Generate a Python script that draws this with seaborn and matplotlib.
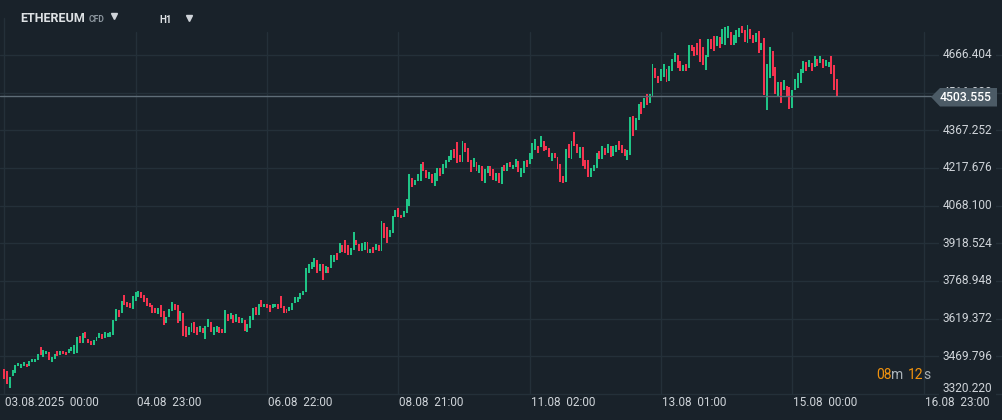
import numpy as np
import pandas as pd
import matplotlib
matplotlib.use("Agg")
import matplotlib.pyplot as plt
from matplotlib.patches import Polygon
import seaborn as sns

# hourly candles, ETHEREUM CFD
opens = [
    3418, 3413, 3345, 3393, 3405, 3432, 3425, 3433, 3440, 3433, 3449, 3449, 3455, 3506, 3469, 3481,
    3487, 3449, 3458, 3492, 3475, 3492, 3488, 3482, 3489, 3479, 3485, 3551, 3522, 3568, 3538, 3532,
    3515, 3532, 3542, 3559, 3542, 3546, 3546, 3555, 3612, 3654, 3643, 3714, 3687, 3683, 3657, 3691,
    3704, 3725, 3714, 3702, 3683, 3674, 3663, 3638, 3674, 3650, 3601, 3627, 3651, 3678, 3674, 3612,
    3643, 3590, 3555, 3568, 3608, 3585, 3568, 3581, 3539, 3585, 3608, 3555, 3568, 3588, 3577, 3564,
    3638, 3619, 3634, 3608, 3625, 3604, 3614, 3567, 3581, 3614, 3667, 3632, 3694, 3665, 3678, 3675,
    3661, 3667, 3678, 3710, 3670, 3659, 3651, 3654, 3683, 3687, 3699, 3712, 3727, 3802, 3816, 3824,
    3852, 3810, 3837, 3802, 3826, 3820, 3846, 3881, 3879, 3912, 3932, 3912, 3872, 3892, 3932, 3916,
    3890, 3892, 3925, 3881, 3903, 3892, 3912, 3890, 4001, 3982, 3945, 3961, 4025, 4059, 4032, 4022,
    4040, 4067, 4177, 4150, 4164, 4167, 4242, 4210, 4173, 4194, 4146, 4164, 4218, 4194, 4217, 4240,
    4250, 4292, 4321, 4270, 4243, 4316, 4296, 4250, 4223, 4243, 4197, 4226, 4157, 4199, 4226, 4213,
    4167, 4197, 4154, 4230, 4207, 4242, 4213, 4223, 4247, 4183, 4199, 4250, 4234, 4252, 4289, 4305,
    4300, 4325, 4305, 4296, 4247, 4276, 4263, 4234, 4187, 4163, 4313, 4254, 4362, 4312, 4259, 4302,
    4250, 4250, 4183, 4206, 4217, 4285, 4254, 4298, 4276, 4305, 4267, 4283, 4325, 4309, 4293, 4250,
    4270, 4426, 4369, 4408, 4479, 4455, 4510, 4475, 4499, 4614, 4583, 4565, 4580, 4610, 4565, 4604,
    4640, 4667, 4644, 4604, 4631, 4614, 4706, 4697, 4715, 4729, 4700, 4607, 4657, 4729, 4742, 4702,
    4737, 4710, 4706, 4733, 4759, 4706, 4715, 4739, 4782, 4766, 4713, 4769, 4746, 4719, 4762, 4686,
    4733, 4448, 4574, 4684, 4620, 4504, 4561, 4527, 4543, 4541, 4455, 4527, 4534, 4557, 4596, 4640,
    4620, 4634, 4620, 4650, 4636, 4650, 4623, 4620, 4663, 4627, 4570,
]
closes = [
    3380, 3360, 3389, 3416, 3436, 3445, 3440, 3449, 3429, 3453, 3458, 3461, 3479, 3477, 3495, 3492,
    3455, 3469, 3479, 3471, 3491, 3479, 3475, 3499, 3508, 3515, 3546, 3524, 3564, 3542, 3522, 3515,
    3535, 3546, 3562, 3538, 3568, 3564, 3568, 3614, 3657, 3627, 3690, 3674, 3667, 3661, 3710, 3727,
    3731, 3702, 3687, 3670, 3667, 3641, 3641, 3661, 3627, 3594, 3627, 3657, 3686, 3654, 3604, 3651,
    3552, 3548, 3588, 3604, 3562, 3554, 3590, 3562, 3590, 3618, 3568, 3585, 3590, 3562, 3562, 3654,
    3612, 3643, 3604, 3637, 3601, 3621, 3571, 3598, 3630, 3662, 3634, 3678, 3665, 3678, 3661, 3647,
    3678, 3678, 3658, 3663, 3643, 3643, 3665, 3683, 3707, 3704, 3723, 3731, 3820, 3837, 3846, 3859,
    3800, 3837, 3773, 3829, 3802, 3872, 3872, 3852, 3921, 3886, 3879, 3872, 3901, 3964, 3912, 3890,
    3919, 3925, 3881, 3895, 3881, 3916, 3890, 4009, 3939, 3921, 3972, 4027, 4051, 4025, 4019, 4048,
    4094, 4194, 4141, 4170, 4194, 4234, 4207, 4177, 4203, 4160, 4197, 4217, 4186, 4234, 4250, 4266,
    4289, 4256, 4239, 4242, 4325, 4283, 4243, 4203, 4256, 4207, 4230, 4167, 4213, 4226, 4186, 4170,
    4197, 4157, 4221, 4207, 4236, 4221, 4230, 4252, 4203, 4217, 4247, 4223, 4276, 4316, 4332, 4279,
    4344, 4287, 4289, 4263, 4276, 4256, 4213, 4163, 4160, 4293, 4256, 4325, 4306, 4276, 4302, 4227,
    4214, 4183, 4217, 4230, 4276, 4254, 4305, 4270, 4312, 4263, 4305, 4309, 4289, 4276, 4267, 4289,
    4422, 4346, 4418, 4471, 4431, 4497, 4468, 4510, 4631, 4574, 4557, 4610, 4631, 4561, 4623, 4650,
    4676, 4614, 4604, 4627, 4604, 4706, 4684, 4663, 4667, 4640, 4627, 4667, 4729, 4689, 4684, 4742,
    4693, 4769, 4779, 4782, 4706, 4746, 4766, 4773, 4753, 4719, 4786, 4729, 4715, 4755, 4673, 4715,
    4508, 4631, 4697, 4583, 4512, 4561, 4477, 4567, 4504, 4451, 4527, 4570, 4594, 4610, 4644, 4604,
    4647, 4604, 4663, 4623, 4663, 4614, 4647, 4640, 4591, 4527, 4503.555,
]
last_price = 4503.555
price_levels = [3320.220, 3469.796, 3619.372, 3768.948, 3918.524,
                4068.100, 4217.676, 4367.252, 4516.828, 4666.404]
time_labels = ['03.08.2025  00:00', '04.08  23:00', '06.08  22:00', '08.08  21:00',
               '11.08  02:00', '13.08  01:00', '15.08  00:00', '16.08  23:00']
tick_step = 47

BG = '#19222a'
GRID = '#243039'
UP = '#1fc486'
DOWN = '#f5334f'
TXT = '#cfd4d9'

sns.set_theme(style='dark', rc={'axes.facecolor': BG, 'figure.facecolor': BG})
plt.rcParams['font.family'] = ['Roboto', 'DejaVu Sans']

df = pd.DataFrame({'open': opens, 'close': closes})
df['idx'] = np.arange(len(df))
df['low'] = df[['open', 'close']].min(axis=1)
df['size'] = (df['close'] - df['open']).abs().clip(lower=4)
df['color'] = np.where(df['close'] >= df['open'], UP, DOWN)

W, H = 1002, 420
# pixel layout of the plot area
x0_px, step_px = 4.3, 2.794
base_px, unit_px = 394.0, 37.67 / 149.576


def px2x(px):
    return (px - x0_px) / step_px


def fx(px):
    return px / W


def fy(py):
    return 1 - py / H


fig = plt.figure(figsize=(W / 100, H / 100), dpi=100)
ax = fig.add_axes([0, 0, 1, 1])
ax.set_xlim(px2x(0), px2x(W))
ax.set_ylim(price_levels[0] - (H - base_px) / unit_px, price_levels[0] + base_px / unit_px)
ax.set_xticks([])
ax.set_yticks([])
for s in ax.spines.values():
    s.set_visible(False)

# grid
for lvl in price_levels:
    ax.axhline(lvl, color=GRID, lw=1, zorder=0)
for k in range(len(time_labels)):
    top = 18 if k == 0 else 32
    ax.axvline(k * tick_step, ymin=fy(base_px), ymax=fy(top), color=GRID, lw=1, zorder=0)

# candles
ax.bar(df['idx'], df['size'], bottom=df['low'], width=0.7, color=df['color'],
       linewidth=0, zorder=2)

# last price line
ax.plot([px2x(0), px2x(931)], [last_price, last_price], color='#5f6d77', lw=1, zorder=3)

# price scale labels (4516.828 sits mostly behind the price tag, as in the original)
for lvl in price_levels:
    y = lvl
    if lvl == price_levels[0]:
        y = lvl + 5 / unit_px
    ax.text(px2x(992), y, f'{lvl:.3f}', ha='right', va='center', fontsize=8.6, color=TXT,
            zorder=4, bbox=dict(boxstyle='square,pad=0.3', fc=BG, ec='none'))

# price tag
tag = Polygon([(fx(931), fy(97)), (fx(940), fy(88)), (fx(997), fy(88)),
               (fx(997), fy(106.5)), (fx(940), fy(106.5))],
              closed=True, transform=fig.transFigure, fc='#4c5b66', ec='none', zorder=5)
fig.patches.append(tag)
fig.text(fx(992), fy(97.5), f'{last_price:.3f}', ha='right', va='center',
         fontsize=8.8, fontweight='medium', color='white', zorder=6)

# time labels
for k, lab in enumerate(time_labels):
    fig.text(fx(x0_px + k * tick_step * step_px + 1), fy(403), lab, ha='left', va='center',
             fontsize=8.5, color=TXT)

# countdown
orange = '#f0920e'
for xp, s, c in [(876, '08', orange), (891, 'm', '#aab2b8'), (908, '12', orange), (923, 's', '#aab2b8')]:
    fig.text(fx(xp), fy(375), s, ha='left', va='center', fontsize=10, color=c)

# header
fig.text(fx(20), fy(18), 'ETHEREUM', ha='left', va='center', fontsize=9, fontweight='bold',
         color='#dde1e4')
fig.text(fx(89), fy(19), 'CFD', ha='left', va='center', fontsize=6.2, fontweight='bold',
         color='#8c969e')
fig.text(fx(159), fy(20), 'H1', ha='left', va='center', fontsize=7, fontweight='bold',
         color='#dde1e4')
for xp, yp in [(114, 16), (189, 18)]:
    fig.lines.append(plt.Line2D([fx(xp)], [fy(yp)], marker='v', markersize=4.5, color='#cfd4d9',
                                transform=fig.transFigure, linestyle='none'))

fig.savefig('out.png', dpi=100, facecolor=BG)
